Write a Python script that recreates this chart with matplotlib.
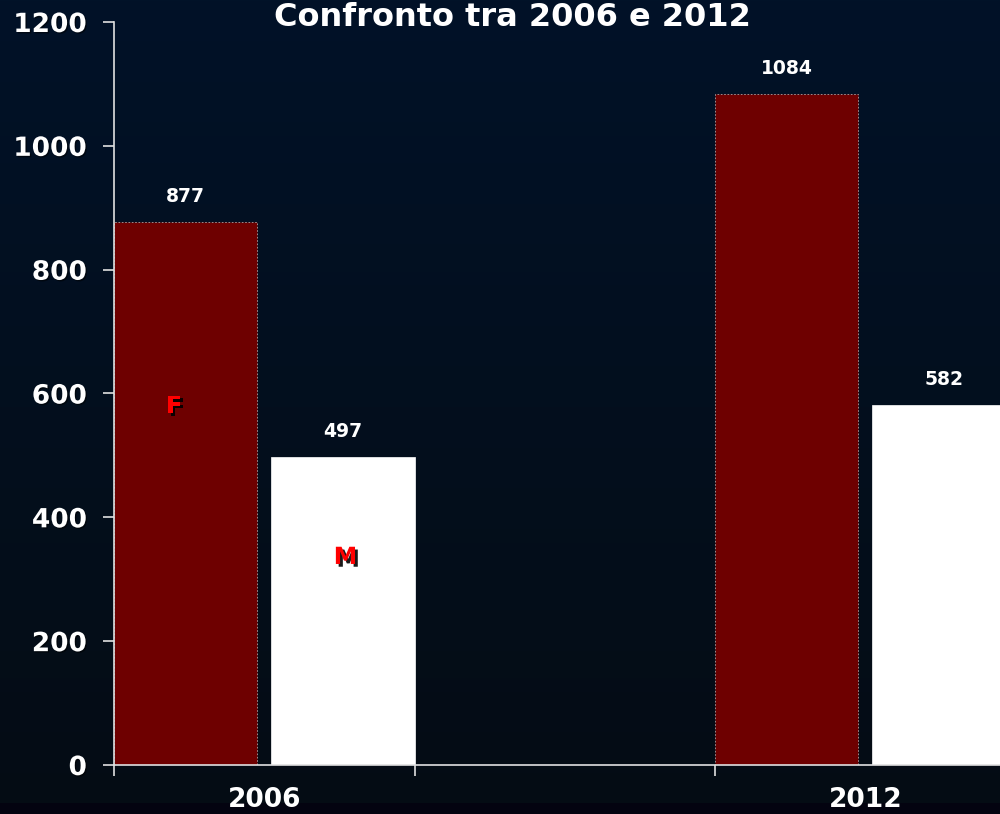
import numpy as np
import matplotlib
matplotlib.use("Agg")
import matplotlib.pyplot as plt
import matplotlib.patheffects as pe

years = ["2006", "2012"]
female = [877, 1084]
male = [497, 582]
yticks = [0, 200, 400, 600, 800, 1000, 1200]
title = "Confronto tra 2006 e 2012"

fig = plt.figure(figsize=(10, 8.14), dpi=100)

# background gradient
bg = fig.add_axes([0, 0, 1, 1], zorder=-10)
bg.axis("off")
top = np.array([0x01, 0x12, 0x28]) / 255
bot = np.array([0x05, 0x0c, 0x14]) / 255
n = 814
t = np.linspace(0, 1, n)[:, None]
grad = top * (1 - t) + bot * t
grad[803:] = np.array([0x03, 0x03, 0x10]) / 255
img = np.repeat(grad[:, None, :], 10, axis=1)
bg.imshow(img, aspect="auto", extent=[0, 1, 0, 1])
bg.set_xlim(0, 1); bg.set_ylim(0, 1)

ax = fig.add_axes([0.114, 1 - 765 / 814, 0.9015, (765 - 22) / 814])
ax.set_facecolor("none")

w = 0.477
x = np.arange(len(years)) * 2.0
ax.bar(x, female, width=w, align="edge", color="#6e0000",
       edgecolor="#b0a0a0", linewidth=0.6, linestyle=(0, (2, 2)))
ax.bar(x + 1 - w, male, width=w, align="edge", color="white",
       edgecolor="white", linewidth=0.5)

lblfx = [pe.withSimplePatchShadow(offset=(1, -1), shadow_rgbFace="black", alpha=0.5)]
for i in range(len(years)):
    ax.text(x[i] + w / 2, female[i] + 26, str(female[i]), ha="center", va="bottom",
            color="white", fontsize=13.5, fontweight="bold")
    ax.text(x[i] + 1 - w / 2, male[i] + 26, str(male[i]), ha="center", va="bottom",
            color="white", fontsize=13.5, fontweight="bold")

shfx = [pe.withSimplePatchShadow(offset=(2, -2), shadow_rgbFace="black", alpha=0.9)]
ax.text(x[0] + 0.2, 580, "F", ha="center", va="center", color="#ff0000",
        fontsize=17, fontweight="bold", path_effects=shfx)
ax.text(x[0] + 0.77, 336, "M", ha="center", va="center", color="#ff0000",
        fontsize=17, fontweight="bold", path_effects=shfx)

ax.set_xlim(0, 3)
ax.set_ylim(0, 1200)
ax.set_yticks(yticks)
ax.set_yticklabels([str(v) for v in yticks], color="white", fontsize=19,
                   fontweight="bold")
for lab in ax.get_yticklabels():
    lab.set_path_effects(lblfx)
ax.set_xticks([0, 1, 2, 3])
ax.set_xticklabels([])
ax.set_xticks(x + 0.5, minor=True)
ax.set_xticklabels(years, minor=True, color="white", fontsize=19, fontweight="bold")
ax.tick_params(axis="x", which="minor", length=0, pad=16)
ax.tick_params(axis="x", which="major", length=8, color="#e0e0e0", width=1.2, direction="out")
ax.tick_params(axis="y", length=8, color="#e0e0e0", width=1.2, pad=11.5)

for s in ["top", "right"]:
    ax.spines[s].set_visible(False)
for s in ["left", "bottom"]:
    ax.spines[s].set_color("#e0e0e0")
    ax.spines[s].set_linewidth(1.2)

fig.text(0.512, 1 - 18 / 814, title, ha="center", va="center", color="white",
         fontsize=23, fontweight="bold")

fig.savefig("out.png", dpi=100)
